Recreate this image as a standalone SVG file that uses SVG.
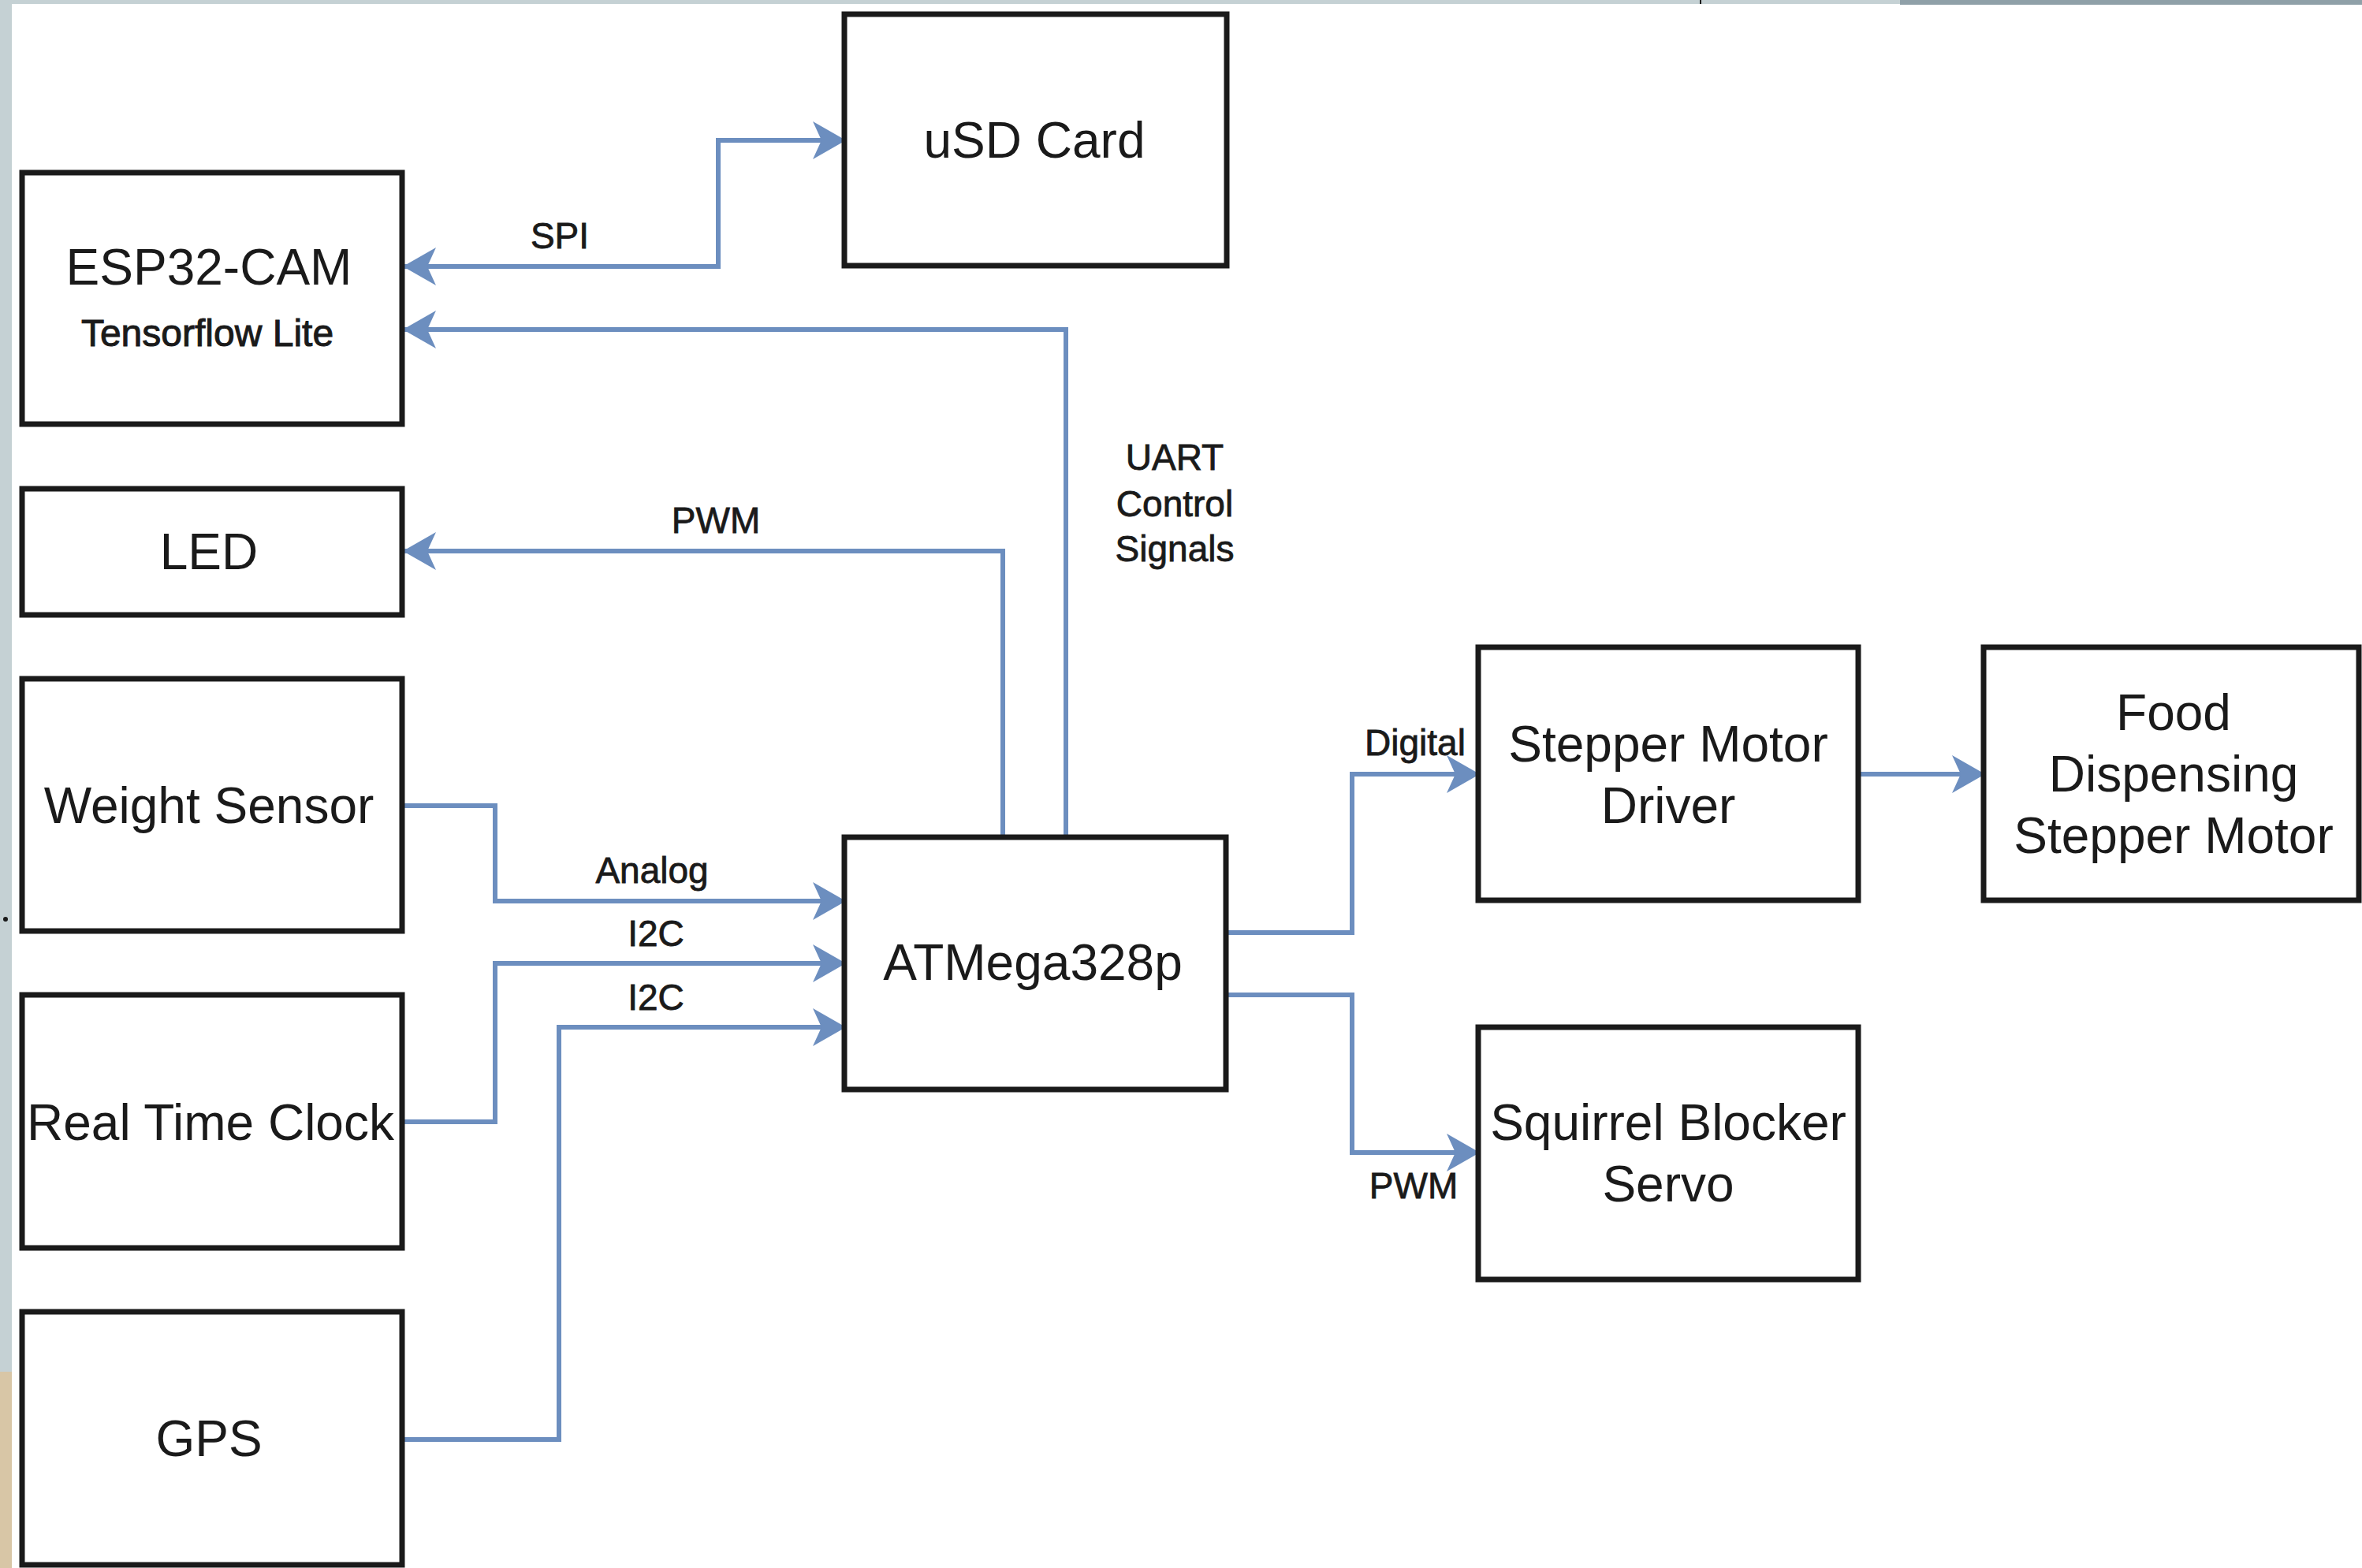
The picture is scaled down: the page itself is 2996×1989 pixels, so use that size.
<svg xmlns="http://www.w3.org/2000/svg" width="2996" height="1989" viewBox="0 0 2996 1989">
  <style>
    .box { fill: #ffffff; stroke: #1a1a1a; stroke-width: 7; }
    .t { font-family: "Liberation Sans", Arial, sans-serif; font-size: 64px; fill: #1a1a1a; text-anchor: middle; }
    .sub { font-size: 48px; stroke: #1a1a1a; stroke-width: 1; }
    .lbl { font-family: "Liberation Sans", Arial, sans-serif; font-size: 46px; fill: #1a1a1a; stroke: #1a1a1a; stroke-width: 0.8; text-anchor: middle; }
    .wire { fill: none; stroke: #6c8ebf; stroke-width: 6; stroke-linejoin: miter; }
    .arr { marker-end: url(#ah); }
  </style>
  <defs>
    <marker id="ah" viewBox="0 0 42 48" refX="40" refY="24" markerWidth="42" markerHeight="48" markerUnits="userSpaceOnUse" orient="auto-start-reverse">
      <path d="M0,0 L42,24 L0,48 L11,24 Z" fill="#6c8ebf"/>
    </marker>
  </defs>

  <!-- page background / screenshot frame -->
  <rect x="0" y="0" width="2996" height="1989" fill="#ffffff"/>
  <rect x="0" y="0" width="15" height="1989" fill="#c5d1d4"/>
  <rect x="0" y="0" width="2996" height="5" fill="#c5d1d4"/>
  <rect x="2410" y="0" width="586" height="6" fill="#8fa0a8"/>
  <rect x="0" y="1740" width="15" height="249" fill="#d8c6a6"/>
  <circle cx="7" cy="1166" r="3" fill="#1a1a1a"/>
  <rect x="2156" y="0" width="2" height="5" fill="#1a1a1a"/>

  <g id="connectors">
    <path class="wire" d="M513,338 H911 V178 H1071" marker-start="url(#ah)" marker-end="url(#ah)"/>
    <path class="wire arr" d="M1352,1062 V418 H513"/>
    <path class="wire arr" d="M1272,1062 V699 H513"/>
    <path class="wire arr" d="M510,1022 H628 V1143 H1071"/>
    <path class="wire arr" d="M510,1423 H628 V1222 H1071"/>
    <path class="wire arr" d="M510,1826 H709 V1303 H1071"/>
    <path class="wire arr" d="M1556,1183 H1715 V982 H1875"/>
    <path class="wire arr" d="M1556,1262 H1715 V1462 H1875"/>
    <path class="wire arr" d="M2358,982 H2516"/>
    <text class="lbl" x="710" y="315">SPI</text>
    <text class="lbl" x="908" y="676">PWM</text>
    <text class="lbl" x="1490" y="596">UART</text>
    <text class="lbl" x="1490" y="655">Control</text>
    <text class="lbl" x="1490" y="712">Signals</text>
    <text class="lbl" x="827" y="1120">Analog</text>
    <text class="lbl" x="832" y="1200">I2C</text>
    <text class="lbl" x="832" y="1281">I2C</text>
    <text class="lbl" x="1795" y="958">Digital</text>
    <text class="lbl" x="1793" y="1520">PWM</text>
  </g>

  <g id="usd">
    <rect class="box" x="1071" y="18" width="485" height="319"/>
    <text class="t" x="1312" y="200">uSD Card</text>
  </g>
  <g id="esp32">
    <rect class="box" x="28" y="219" width="482" height="319"/>
    <text class="t" x="265" y="361">ESP32-CAM</text>
    <text class="t sub" x="263" y="439">Tensorflow Lite</text>
  </g>
  <g id="led">
    <rect class="box" x="28" y="620" width="482" height="160"/>
    <text class="t" x="265" y="722">LED</text>
  </g>
  <g id="weight">
    <rect class="box" x="28" y="861" width="482" height="320"/>
    <text class="t" x="265" y="1044">Weight Sensor</text>
  </g>
  <g id="rtc">
    <rect class="box" x="28" y="1262" width="482" height="321"/>
    <text class="t" x="267" y="1446">Real Time Clock</text>
  </g>
  <g id="gps">
    <rect class="box" x="28" y="1664" width="482" height="321"/>
    <text class="t" x="265" y="1847">GPS</text>
  </g>
  <g id="atmega">
    <rect class="box" x="1071" y="1062" width="484" height="320"/>
    <text class="t" x="1310" y="1243">ATMega328p</text>
  </g>
  <g id="stepper-driver">
    <rect class="box" x="1875" y="821" width="482" height="321"/>
    <text class="t" x="2116" y="966">Stepper Motor</text>
    <text class="t" x="2116" y="1044">Driver</text>
  </g>
  <g id="food-motor">
    <rect class="box" x="2516" y="821" width="476" height="321"/>
    <text class="t" x="2757" y="926">Food</text>
    <text class="t" x="2757" y="1004">Dispensing</text>
    <text class="t" x="2757" y="1082">Stepper Motor</text>
  </g>
  <g id="servo">
    <rect class="box" x="1875" y="1303" width="482" height="320"/>
    <text class="t" x="2116" y="1446">Squirrel Blocker</text>
    <text class="t" x="2116" y="1524">Servo</text>
  </g>
</svg>
